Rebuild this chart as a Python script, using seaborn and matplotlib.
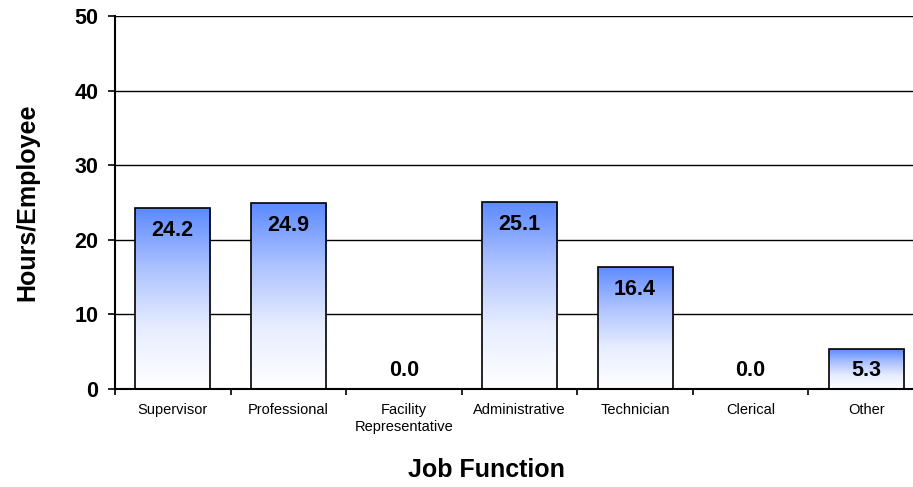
import numpy as np
import pandas as pd
import matplotlib
matplotlib.use("Agg")
import matplotlib.pyplot as plt
from matplotlib.colors import LinearSegmentedColormap
import seaborn as sns

categories = ["Supervisor", "Professional", "Facility\nRepresentative", "Administrative",
              "Technician", "Clerical", "Other"]
hours = [24.2, 24.9, 0.0, 25.1, 16.4, 0.0, 5.3]
value_labels = ["24.2", "24.9", "0.0", "25.1", "16.4", "0.0", "5.3"]
y_ticks = [0, 10, 20, 30, 40, 50]

df = pd.DataFrame({"Job Function": categories, "Hours/Employee": hours})

sns.set_style("white")
plt.rcParams["font.family"] = ["Liberation Sans", "DejaVu Sans"]
plt.rcParams["text.color"] = "black"
plt.rcParams["axes.labelcolor"] = "black"
plt.rcParams["xtick.color"] = "black"
plt.rcParams["ytick.color"] = "black"

fig = plt.figure(figsize=(9.13, 4.87), dpi=100)
ax = fig.add_axes([115 / 913, 98 / 487, 809 / 913, (389 - 16) / 487])

sns.barplot(data=df, x="Job Function", y="Hours/Employee", ax=ax, width=0.65,
            color="white", edgecolor="black", linewidth=1.2, zorder=3)

cmap = LinearSegmentedColormap.from_list("g", ["#ffffff", "#e8eeff", "#adc2ff", "#5c8aff"])
grad = np.linspace(0, 1, 256).reshape(-1, 1)
for p in ax.patches:
    p.set_facecolor("none")
    x0, y0 = p.get_x(), p.get_y()
    w, h = p.get_width(), p.get_height()
    if h <= 0:
        p.set_visible(False)
        continue
    im = ax.imshow(grad, extent=(x0, x0 + w, y0, y0 + h), origin="lower",
                   cmap=cmap, aspect="auto", zorder=2, interpolation="bilinear")
    im.set_clip_path(p)

for i, (v, lab) in enumerate(zip(hours, value_labels)):
    ax.text(i, max(v - 3.0, 2.5), lab, ha="center", va="center",
            fontsize=15.5, fontweight="bold", color="black", zorder=5)

ax.set_xlim(-0.5, len(categories) - 0.5)
ax.set_ylim(0, 50)
ax.set_yticks(y_ticks)
ax.set_yticklabels([str(t) for t in y_ticks], fontsize=15.5, fontweight="bold")
ax.set_xticks(range(len(categories)))
ax.set_xticklabels(categories, fontsize=10.5, linespacing=1.3)
ax.tick_params(axis="x", which="major", length=0, pad=10)
ax.set_xticks(np.arange(-0.5, len(categories), 1), minor=True)
ax.tick_params(axis="x", which="minor", bottom=True, length=4, width=1.2,
               color="black", direction="out")
ax.tick_params(axis="y", left=True, length=5, width=1.2, color="black",
               direction="out", pad=7)

ax.yaxis.grid(True, color="black", linewidth=1.0)
ax.set_axisbelow(True)
for s in ["top", "right"]:
    ax.spines[s].set_visible(False)
for s in ["left", "bottom"]:
    ax.spines[s].set_color("black")
    ax.spines[s].set_linewidth(1.5)

ax.set_xlabel("Job Function", fontsize=18, fontweight="bold")
ax.set_ylabel("Hours/Employee", fontsize=18, fontweight="bold")
ax.xaxis.set_label_coords((486 - 115) / 809, -0.185)
ax.yaxis.set_label_coords(-0.093, 0.5)

fig.savefig("out.png", dpi=100)
